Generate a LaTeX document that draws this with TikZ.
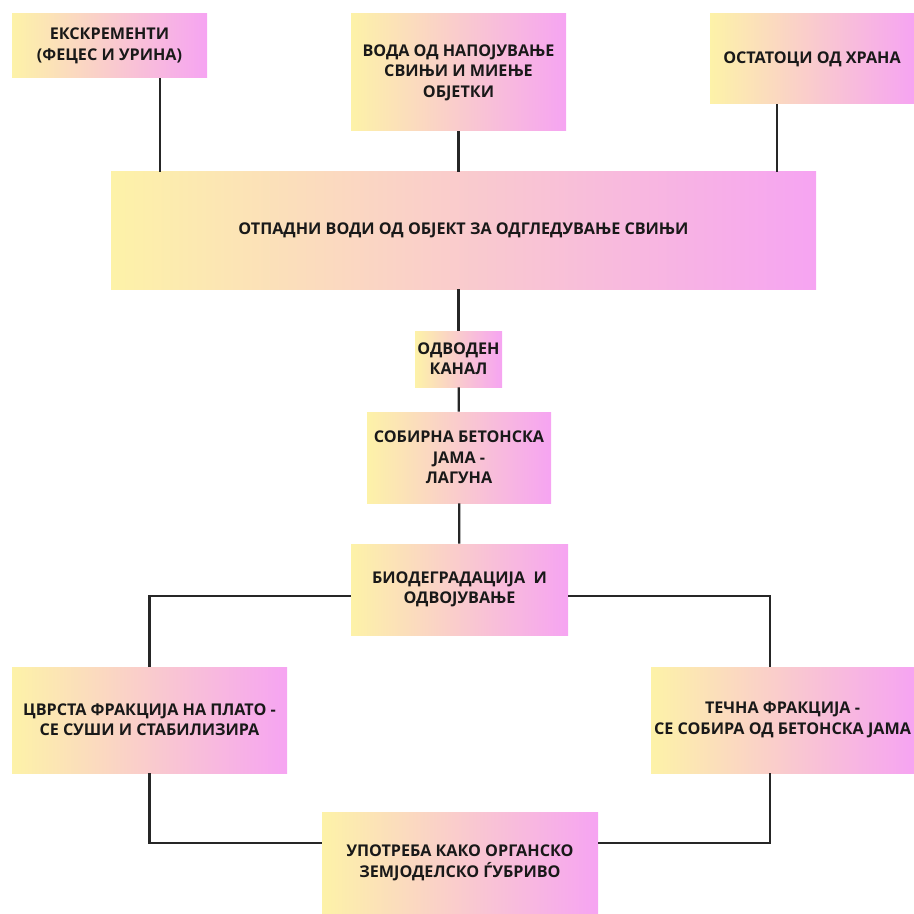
\documentclass[tikz,border=0pt]{standalone}
\usepackage{fontspec}
\setmainfont{Open Sans}
\usepackage{xcolor}
\usetikzlibrary{positioning,calc}

\definecolor{gradL}{HTML}{FDF2A8}
\definecolor{gradM}{HTML}{F9CEC8}
\definecolor{gradR}{HTML}{F6A4F2}

\begin{document}
\begin{tikzpicture}[
  every node/.style={font=\bfseries\fontsize{9.2}{11.6}\selectfont, text=black!90},
  box/.style={left color=gradL, middle color=gradM, right color=gradR, align=center, inner sep=1pt},
  link/.style={line width=1.3pt, black!85}
]
  \useasboundingbox (0,0) rectangle (18.28,-18.28);

  \node[box, minimum width=3.9cm, minimum height=1.28cm] (excr) at (2.19,-0.92) {ЕКСКРЕМЕНТИ\\(ФЕЦЕС И УРИНА)};
  \node[box, minimum width=4.3cm, minimum height=2.34cm] (water) at (9.17,-1.45) {ВОДА ОД НАПОЈУВАЊЕ\\СВИЊИ И МИЕЊЕ\\ОБЈЕТКИ};
  \node[box, minimum width=4.08cm, minimum height=1.8cm] (food) at (16.24,-1.18) {ОСТАТОЦИ ОД ХРАНА};

  \node[box, minimum width=14.1cm, minimum height=2.34cm] (waste) at (9.27,-4.61) {ОТПАДНИ ВОДИ ОД ОБЈЕКТ ЗА ОДГЛЕДУВАЊЕ СВИЊИ};

  \node[box, minimum width=1.74cm, minimum height=1.12cm] (canal) at (9.17,-7.18) {ОДВОДЕН\\КАНАЛ};
  \node[box, minimum width=3.68cm, minimum height=1.82cm] (pit) at (9.18,-9.15) {СОБИРНА БЕТОНСКА\\ЈАМА -\\ЛАГУНА};
  \node[box, minimum width=4.34cm, minimum height=1.82cm] (biodeg) at (9.19,-11.79) {БИОДЕГРАДАЦИЈА\ \ И\\ОДВОЈУВАЊЕ};

  \node[box, minimum width=5.5cm, minimum height=2.12cm] (solid) at (2.99,-14.4) {ЦВРСТА ФРАКЦИЈА НА ПЛАТО -\\СЕ СУШИ И СТАБИЛИЗИРА};
  \node[box, minimum width=5.26cm, minimum height=2.12cm] (liquid) at (15.65,-14.4) {ТЕЧНА ФРАКЦИЈА -\\СЕ СОБИРА ОД БЕТОНСКА ЈАМА};

  \node[box, minimum width=5.52cm, minimum height=2.04cm] (manure) at (9.2,-17.26) {УПОТРЕБА КАКО ОРГАНСКО\\ЗЕМЈОДЕЛСКО ЃУБРИВО};

  \draw[link] ([xshift=1.01cm]excr.south) -- ([xshift=1.01cm]excr.south |- waste.north);
  \draw[link] (water.south) -- (water.south |- waste.north);
  \draw[link] ([xshift=-0.7cm]food.south) -- ([xshift=-0.7cm]food.south |- waste.north);
  \draw[link] (waste.south -| canal.north) -- (canal.north);
  \draw[link] (canal) -- (pit);
  \draw[link] (pit) -- (biodeg);
  \draw[link] ([yshift=-0.13cm]biodeg.west) -| (solid.north);
  \draw[link] ([yshift=-0.13cm]biodeg.east) -| ([xshift=-0.25cm]liquid.north);
  \draw[link] (solid.south) |- ([yshift=0.4cm]manure.west);
  \draw[link] ([xshift=-0.25cm]liquid.south) |- ([yshift=0.4cm]manure.east);
\end{tikzpicture}
\end{document}
